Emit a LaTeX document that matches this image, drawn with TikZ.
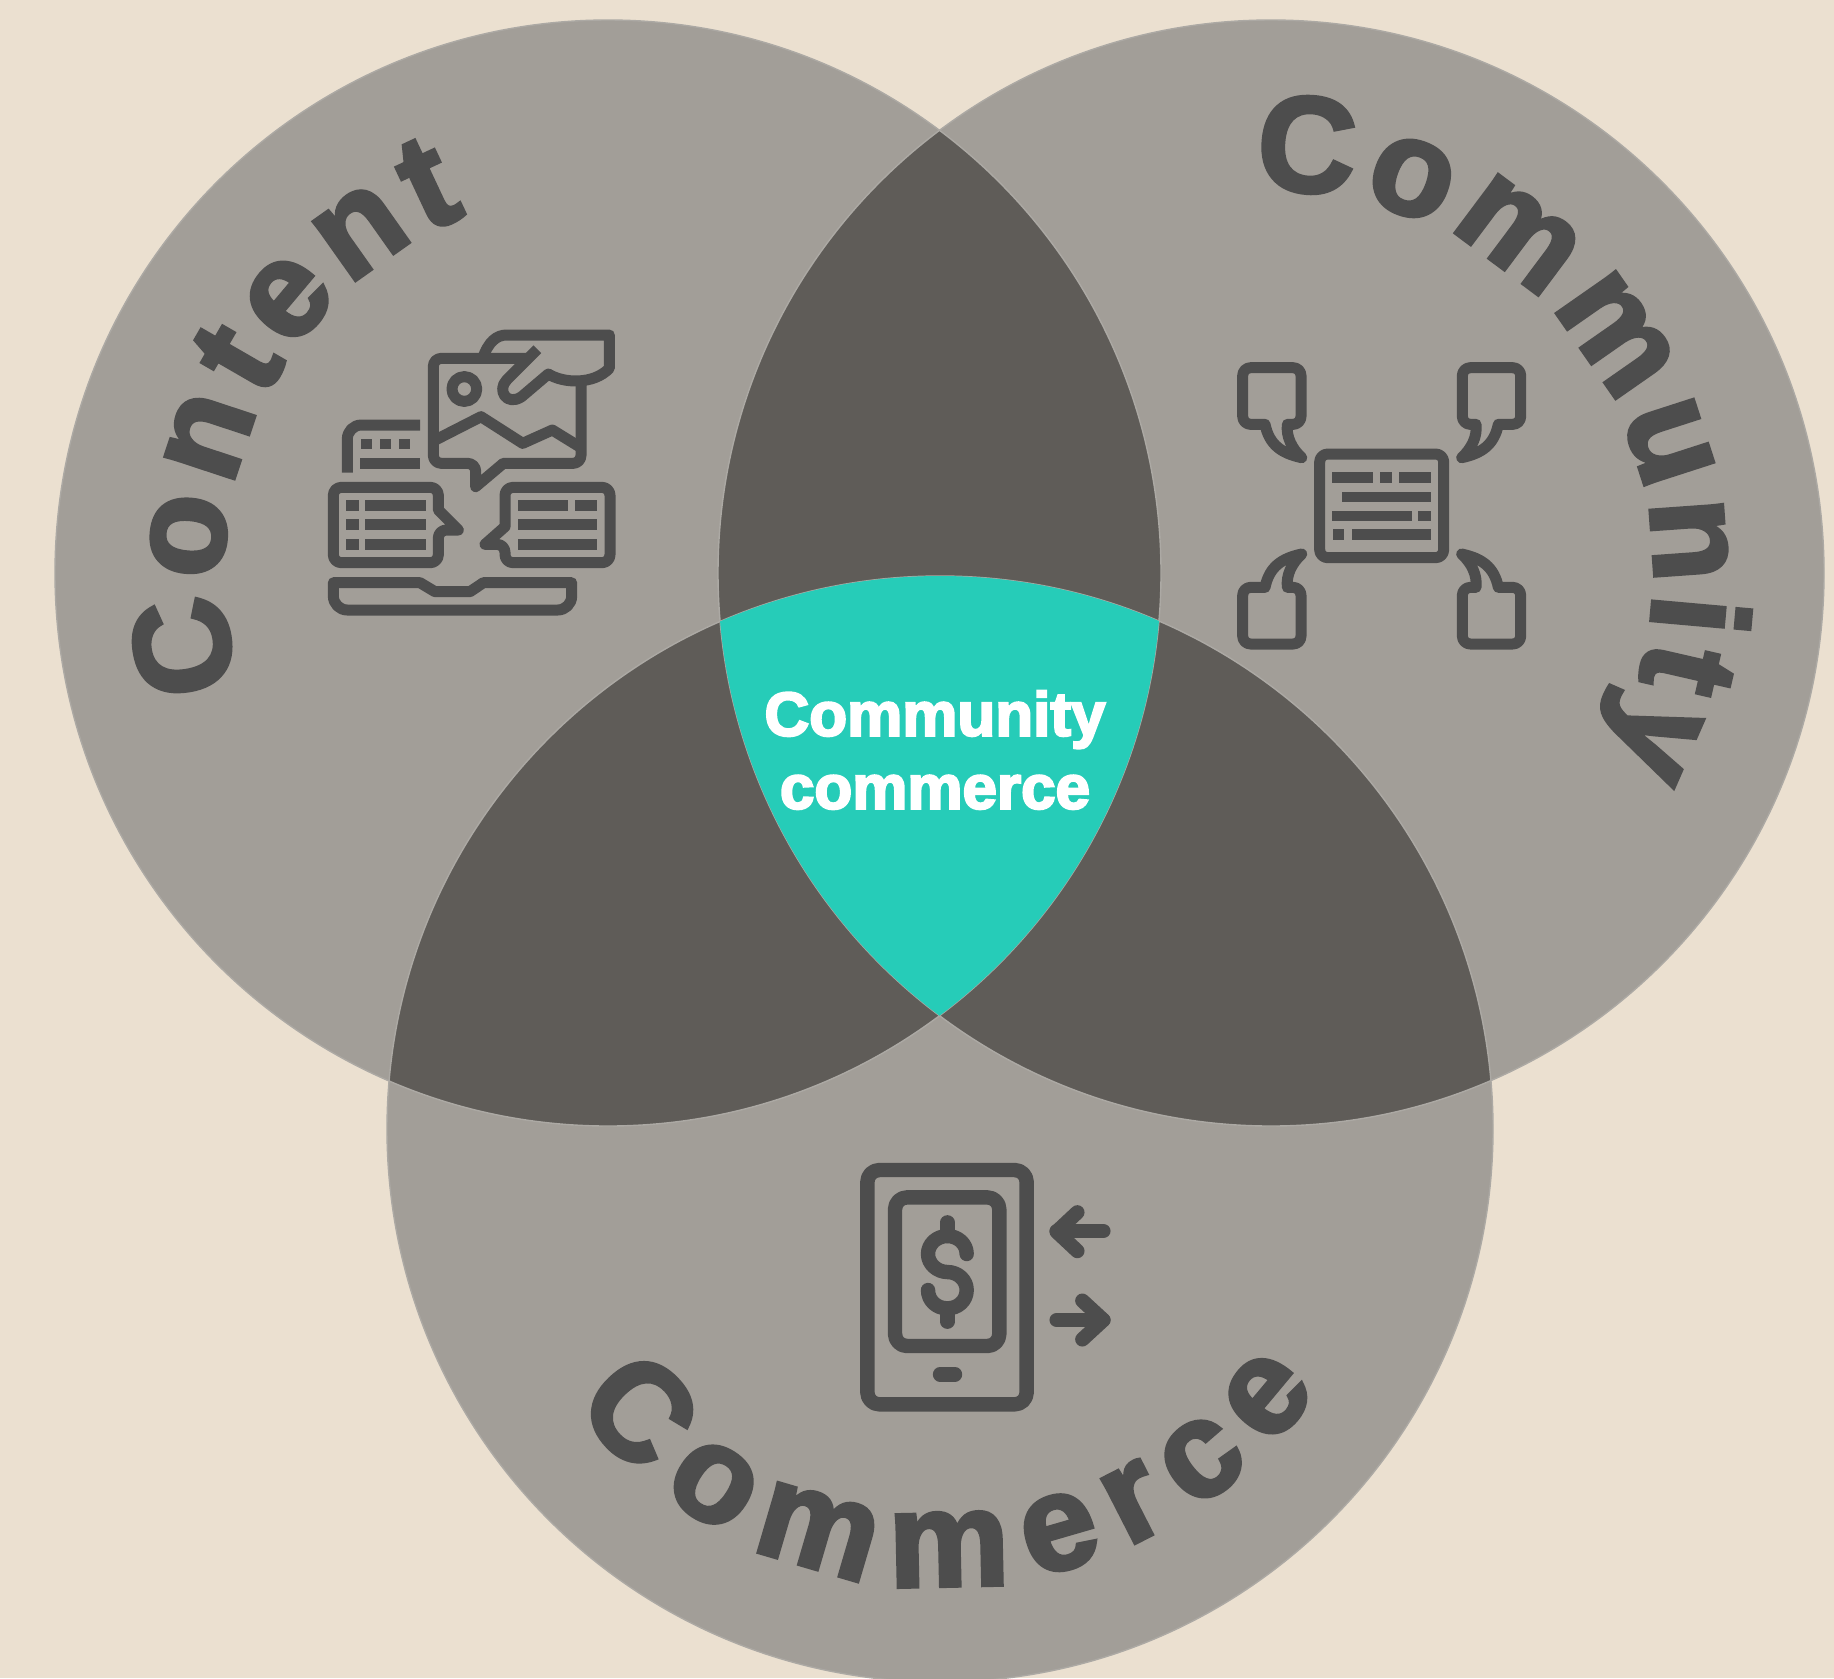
\documentclass[tikz,border=0pt]{standalone}
\usepackage{fontspec}
\usetikzlibrary{decorations.text}
\newfontfamily\heavyfont[BoldFeatures={FakeBold=3}]{Liberation Sans}
\newfontfamily\centrefont[BoldFeatures={FakeBold=3.5}]{Liberation Sans}
\newcommand{\ringfont}{\heavyfont\bfseries\fontsize{68}{82}\selectfont}
\definecolor{paper}{RGB}{235,224,208}
\definecolor{ringgrey}{RGB}{162,158,152}
\definecolor{overlapgrey}{RGB}{95,92,88}
\definecolor{centreteal}{RGB}{38,204,184}
\definecolor{ink}{RGB}{77,77,77}
\definecolor{ringedge}{RGB}{172,169,164}
\def\contentring{(608,573) circle[radius=276.5pt]}
\def\communityring{(1271,573) circle[radius=276.5pt]}
\def\commercering{(940,1129) circle[radius=276.5pt]}
\def\speechpath{(165,253) [rounded corners=4pt] -- (98,253) -- (98,83) -- (273,83) -- (273,253) [sharp corners] -- (232,253) .. controls (228,290) and (245,325) .. (275,353) .. controls (215,340) and (178,315) .. (165,253) -- cycle}
\tikzset{
    iconline/.style={draw=ink, line width=5.5pt, line join=round},
    phoneline/.style={draw=ink, line width=7.2pt, line join=round, line cap=round},
    iconbar/.style={fill=ink},
    zoomframe/.style={x=0.16667pt, y=-0.16667pt},
}
\begin{document}
\begin{tikzpicture}[x=0.5pt, y=-0.5pt]
    \useasboundingbox (0,0) rectangle (1834,1678);
    \clip (0,0) rectangle (1834,1678);
    \fill[paper] (0,0) rectangle (1834,1678);

    % Rings
    \fill[ringgrey] \contentring;
    \fill[ringgrey] \communityring;
    \fill[ringgrey] \commercering;

    % Overlaps
    \begin{scope}
        \clip \contentring;
        \fill[overlapgrey] \communityring;
        \fill[overlapgrey] \commercering;
    \end{scope}
    \begin{scope}
        \clip \communityring;
        \fill[overlapgrey] \commercering;
    \end{scope}
    \draw[ringedge, line width=0.7pt] \contentring;
    \draw[ringedge, line width=0.7pt] \communityring;
    \draw[ringedge, line width=0.7pt] \commercering;
    \begin{scope}
        \clip \contentring;
        \clip \communityring;
        \fill[centreteal] \commercering;
    \end{scope}

    % Ring labels
    \path[decorate, decoration={text along path, text={|\color{ink}\ringfont|Content}, text align={fit to path}}]
        plot[domain=162.7:248.5, samples=60] ({608+385*cos(\x)},{573+385*sin(\x)});
    \path[decorate, decoration={text along path, text={|\color{ink}\ringfont|Community}, text align={fit to path}}]
        plot[domain=-92.5:29, samples=80] ({1271+383*cos(\x)},{573+383*sin(\x)});
    \path[decorate, decoration={text along path, text={|\color{ink}\ringfont|Commerce}, text align={fit to path}}]
        plot[domain=142.5:35, samples=80] ({940+461*cos(\x)},{1125+461*sin(\x)});

    % Centre label
    \node (centrelabel) [text=white, align=center, font=\centrefont\bfseries\fontsize{31}{36.5}\selectfont] at (935,750) {Community\\commerce};

    % Content icon
    \begin{scope}[shift={(300,300)}, zoomframe]
        \draw[iconline, rounded corners=4pt] (690,175) -- (400,175) -- (400,490) -- (527,490) [sharp corners] -- (527,560) -- (610,490) [rounded corners=4pt] -- (843,490) -- (843,250);
        \draw[iconline] (400,423) -- (543,350) -- (668,430) -- (757,390) -- (843,443);
        \draw[iconline] (493,267) circle[radius=6.2pt];
        \draw[iconline] (712,148) -- (620,240) .. controls (590,270) and (620,320) .. (665,290) -- (745,222) .. controls (790,250) and (880,255) .. (928,205) -- (928,105) -- (620,105) .. controls (590,105) and (565,125) .. (548,175);
        \draw[iconline, rounded corners=7pt] (360,375) -- (142,375) -- (142,518);
        \fill[iconbar] (183,417) rectangle (217,447);
        \fill[iconbar] (240,417) rectangle (274,447);
        \fill[iconbar] (297,417) rectangle (331,447);
        \fill[iconbar] (180,475) rectangle (360,507);
        \draw[iconline] (415,600) [rounded corners=4pt] -- (415,562) -- (100,562) -- (100,788) -- (415,788) -- (415,690) [sharp corners] -- (475,690) -- (415,630) -- cycle;
        \fill[iconbar] (137,600) rectangle (177,632);
        \fill[iconbar] (137,658) rectangle (177,690);
        \fill[iconbar] (137,717) rectangle (177,750);
        \fill[iconbar] (195,600) rectangle (378,632);
        \fill[iconbar] (195,658) rectangle (378,690);
        \fill[iconbar] (195,717) rectangle (378,750);
        \draw[iconline] (615,620) [rounded corners=4pt] -- (615,562) -- (930,562) -- (930,788) -- (615,788) -- (615,733) [sharp corners] -- (555,733) -- (615,680) -- cycle;
        \fill[iconbar] (655,600) rectangle (803,632);
        \fill[iconbar] (825,600) rectangle (890,632);
        \fill[iconbar] (655,658) rectangle (890,690);
        \fill[iconbar] (655,717) rectangle (890,750);
        \draw[iconline] (100,848) -- (360,848) -- (405,875) -- (510,875) -- (550,848) -- (815,848) [rounded corners=7pt] -- (815,930) -- (100,930) [sharp corners] -- cycle;
    \end{scope}

    % Community icon
    \begin{scope}[shift={(1210,340)}, zoomframe]
        \draw[iconline, rounded corners=4pt] (329,342) rectangle (701,653);
        \fill[iconbar] (366,397) rectangle (490,428);
        \fill[iconbar] (510,397) rectangle (545,428);
        \fill[iconbar] (568,397) rectangle (662,428);
        \fill[iconbar] (397,455) rectangle (662,486);
        \fill[iconbar] (366,512) rectangle (605,543);
        \fill[iconbar] (625,512) rectangle (662,543);
        \fill[iconbar] (369,568) rectangle (403,600);
        \fill[iconbar] (427,568) rectangle (662,600);
        \draw[iconline] \speechpath;
        \draw[iconline, shift={(1030,0)}, xscale=-1] \speechpath;
        \draw[iconline, shift={(0,995)}, yscale=-1] \speechpath;
        \draw[iconline, shift={(1030,995)}, xscale=-1, yscale=-1] \speechpath;
    \end{scope}

    % Commerce icon
    \begin{scope}[shift={(830,1140)}, zoomframe]
        \draw[phoneline, rounded corners=6pt] (112,90) rectangle (590,793);
        \draw[phoneline, rounded corners=6pt] (195,172) rectangle (508,618);
        \draw[phoneline] (330,703) -- (375,703);
        \draw[phoneline] (352,247) -- (352,288);
        \draw[phoneline] (352,505) -- (352,545);
        \draw[phoneline] (410,342) .. controls (410,310) and (382,288) .. (352,288) .. controls (320,288) and (294,312) .. (294,342) .. controls (294,372) and (322,396) .. (352,396) .. controls (384,396) and (410,420) .. (410,450) .. controls (410,482) and (384,505) .. (352,505) .. controls (320,505) and (294,482) .. (294,450);
        \draw[phoneline] (820,273) -- (680,273);
        \draw[phoneline] (742,217) -- (680,275) -- (742,333);
        \draw[phoneline] (680,540) -- (820,540);
        \draw[phoneline] (757,482) -- (820,540) -- (757,598);
    \end{scope}
\end{tikzpicture}
\end{document}
